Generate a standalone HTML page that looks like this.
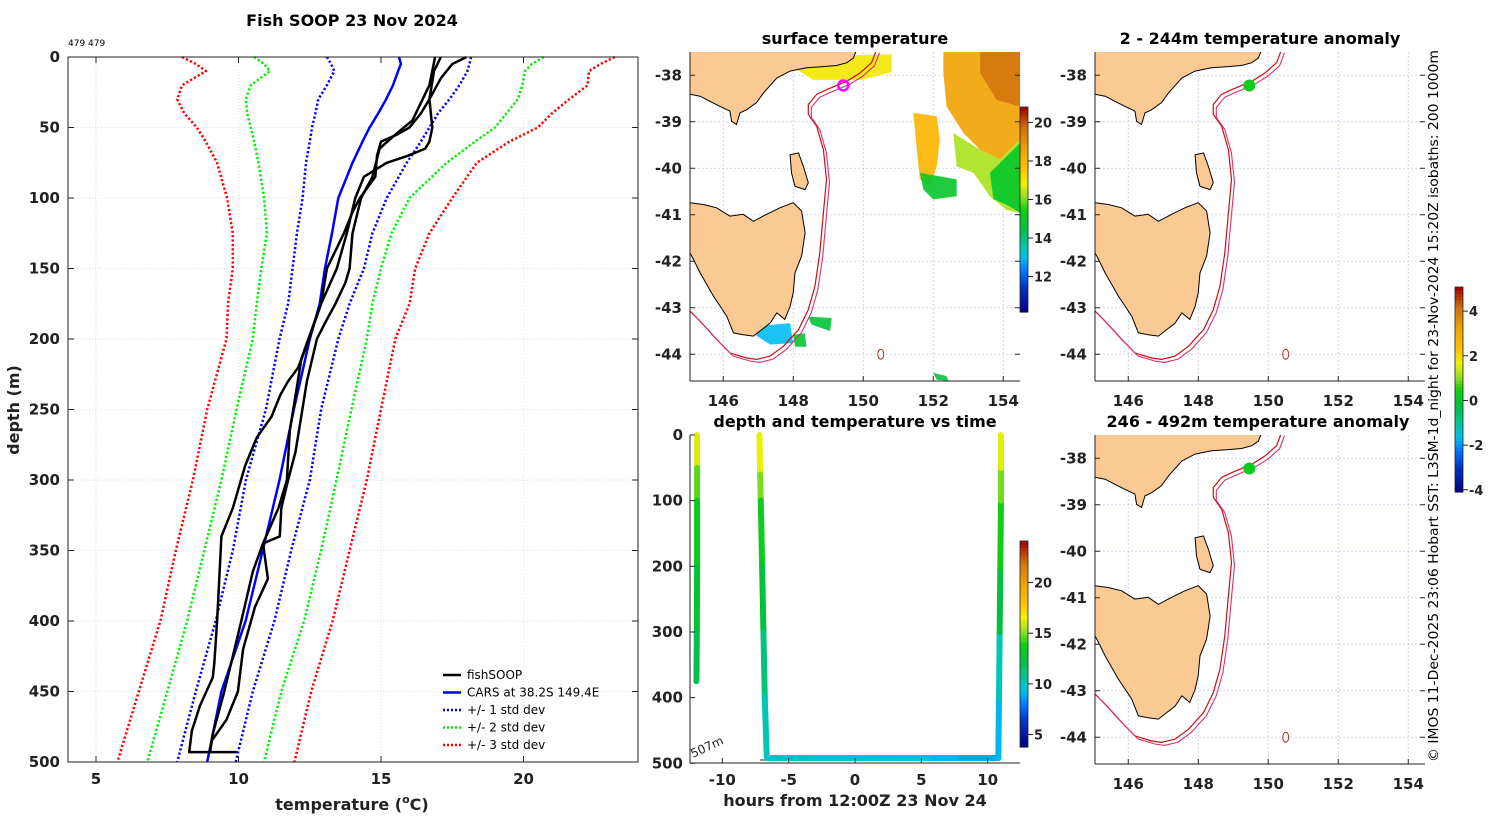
<!DOCTYPE html>
<html><head><meta charset="utf-8"><style>
html,body{margin:0;padding:0;background:#fff}
svg{display:block;font-family:"DejaVu Sans","Liberation Sans",sans-serif}
</style></head><body>
<svg id="s" width="1500" height="820" viewBox="0 0 1500 820" xmlns="http://www.w3.org/2000/svg">
<rect width="1500" height="820" fill="#fff"/>
<g id="prof"></g>
<g id="m1"></g>
<g id="m2"></g>
<g id="m3"></g>
<g id="ts"></g>
<g id="cb"></g>
<text transform="translate(1438,762) rotate(-90)" font-size="13" textLength="712" lengthAdjust="spacingAndGlyphs">© IMOS 11-Dec-2025 23:06 Hobart SST: L3SM-1d_night for 23-Nov-2024 15:20Z isobaths: 200  1000m</text>
</svg>
<script>
// ---------- profile data ----------
const stdDepths=[0,5,10,20,30,40,50,60,75,100,125,150,175,200,250,300,350,400,450,500];
const carsTemp=[15.63,15.7,15.6,15.42,15.18,14.9,14.6,14.35,14.0,13.5,13.28,13.03,12.85,12.5,11.94,11.44,10.85,10.25,9.4,8.9];
const std1Lo=[13.1,13.25,13.36,13.1,12.8,12.7,12.58,12.5,12.37,12.25,12.05,11.9,11.74,11.44,10.96,10.26,9.8,9.2,8.5,7.85];
const std1Hi=[18.16,18.1,18.03,17.75,17.4,17.0,16.7,16.4,15.9,15.2,14.7,14.4,13.9,13.5,12.9,12.5,11.85,11.26,10.5,9.9];
const std2Lo=[10.55,10.9,11.1,10.43,10.26,10.3,10.43,10.55,10.7,10.9,11.0,10.8,10.64,10.5,9.93,9.4,8.8,8.2,7.5,6.8];
const std2Hi=[20.7,20.3,20.05,19.96,19.8,19.4,19.0,18.3,17.3,16.0,15.37,15.0,14.7,14.5,13.96,13.44,12.9,12.3,11.5,10.9];
const std3Lo=[8.02,8.5,8.86,8.02,7.85,8.1,8.54,8.85,9.25,9.6,9.8,9.8,9.63,9.58,8.9,8.4,7.8,7.26,6.5,5.75];
const std3Hi=[23.2,22.7,22.3,22.25,21.6,21.0,20.5,19.5,18.36,17.5,16.7,16.2,16.0,15.5,15.0,14.5,13.9,13.3,12.55,11.96];
const p1Depth=[0,10,30,50,60,65,70,75,80,85,100,125,150,175,200,220,230,240,255,270,290,320,340,360,400,430,440,460,478,493,493];
const p1Temp=[17.1,16.86,16.7,16.8,16.7,16.55,15.95,15.2,14.8,14.4,14.1,13.8,13.45,12.9,12.45,12.1,11.74,11.46,11.16,10.64,10.23,9.8,9.4,9.35,9.25,9.15,9.1,8.65,8.36,8.27,9.94];
const p2Depth=[0,5,15,30,40,50,55,60,70,85,100,110,125,150,175,200,215,240,265,300,320,345,365,400,450,480,493];
const p2Temp=[18.0,17.5,17.1,16.7,16.4,16.0,15.56,15.0,14.86,14.8,14.26,14.0,13.7,13.1,12.9,12.47,12.2,12.0,11.8,11.7,11.4,10.86,10.5,10.1,9.5,9.1,9.0];
const p3Depth=[0,20,45,55,65,85,100,125,150,160,175,190,200,230,260,280,300,320,340,345,370,390,420,450,470,485,493];
const p3Temp=[16.9,16.7,16.1,15.5,14.95,14.7,14.3,14.0,13.9,13.75,13.4,13.0,12.75,12.4,12.16,12.0,11.74,11.5,11.45,10.86,11.03,10.58,10.16,9.98,9.58,9.06,9.0];
const tempTicks=[5,10,15,20];
const depthTicks=[0,50,100,150,200,250,300,350,400,450,500];
// ---------- time series data ----------
const diveTime=[-11.9,-11.9,-11.9,-11.9,-11.92,-11.95, null, -7.2,-7.15,-7.1,-7.0,-6.9,-6.8,-6.65,-6.6,-3,0,3,6,8,10.8,10.85,10.9,10.95,11.0,11.0,11.0];
const diveDepth=[0,50,100,200,300,375, null, 0,60,100,200,300,400,490,492,492,492,492,492,492,492,400,300,200,100,50,0];
const diveTemp=[17,15.5,13.8,13,12.5,11.5, null, 17,16,14,13,12,10.5,9.8,9.8,9.7,9.6,9.6,9.4,8.8,8.9,9.3,11,13.5,14,15.8,17];
const hourTicks=[-10,-5,0,5,10];
const tsDepthTicks=[0,100,200,300,400,500];
// ---------- map data ----------
const lonTicks=[146,148,150,152,154];
const latTicks=[-38,-39,-40,-41,-42,-43,-44];
const mainlandLon=[145.05,149.81,149.72,149.53,149.24,148.76,148.38,147.91,147.53,147.15,146.95,146.67,146.48,146.38,146.24,146.19,145.91,145.62,145.34,145.05];
const mainlandLat=[-37.45,-37.45,-37.63,-37.73,-37.79,-37.82,-37.84,-37.91,-38.06,-38.38,-38.59,-38.74,-38.81,-39.06,-38.99,-38.77,-38.67,-38.56,-38.45,-38.41];
const tasLon=[145.05,145.43,145.81,146.19,146.57,146.86,147.24,147.62,148.0,148.24,148.34,148.24,148.05,148.0,147.91,147.76,147.53,147.34,147.1,146.86,146.57,146.29,146.1,145.72,145.34,145.15,145.05];
const tasLat=[-40.74,-40.78,-40.85,-41.03,-40.99,-41.14,-40.99,-40.85,-40.74,-40.92,-41.39,-41.89,-42.25,-42.68,-42.97,-43.25,-43.11,-43.33,-43.47,-43.61,-43.58,-43.54,-43.18,-42.75,-42.25,-41.96,-41.82];
const flindersLon=[147.91,148.15,148.29,148.43,148.34,148.05,147.95];
const flindersLat=[-39.71,-39.67,-39.96,-40.31,-40.46,-40.39,-40.10];
const isoLon=[150.38,150.24,149.91,149.53,148.95,148.67,148.43,148.43,148.67,148.86,148.95,148.86,148.76,148.62,148.43,148.15,147.72,147.34,146.95,146.67,146.19,145.81,145.34,145.05];
const isoLat=[-37.45,-37.73,-37.95,-38.13,-38.31,-38.41,-38.63,-38.84,-39.10,-39.60,-40.24,-40.96,-41.82,-42.54,-43.04,-43.47,-43.83,-44.04,-44.11,-44.08,-43.97,-43.68,-43.29,-43.07];
const sstPatchTemp=[18.6,19.6,16.3,15.0,18.0,17.0,15.0,13.0,14.8,15.0,14.8];
const sstPatchLon=[[152.29,154.48,154.48,153.91,153.34,152.86,152.38,152.29],[153.34,154.48,154.48,153.81,153.34],[152.57,153.34,153.91,154.48,154.48,154.1,153.62,153.15,152.67],[153.62,154.48,154.48,154.19,153.72],[151.43,152.1,152.19,152.1,151.91,151.62,151.53],[148.0,150.81,150.81,149.96,148.57,148.0],[151.62,152.67,152.67,152.0,151.72],[146.95,147.91,148.0,147.34,146.95],[148.43,149.1,149.05,148.52],[148.0,148.33,148.38,148.05],[152.0,152.38,152.43,152.1]];
const sstPatchLat=[[-37.45,-37.45,-39.38,-39.81,-39.6,-39.24,-38.67,-37.95],[-37.45,-37.45,-38.67,-38.53,-37.95],[-39.24,-39.6,-39.81,-39.38,-40.96,-40.9,-40.6,-40.1,-39.96],[-40.1,-39.46,-40.96,-40.82,-40.66],[-38.81,-38.88,-39.38,-39.96,-40.39,-40.24,-39.6],[-37.6,-37.55,-37.93,-38.1,-38.1,-37.83],[-40.1,-40.24,-40.6,-40.67,-40.46],[-43.4,-43.33,-43.76,-43.79,-43.6],[-43.19,-43.22,-43.5,-43.36],[-43.58,-43.55,-43.84,-43.84],[-44.4,-44.47,-44.57,-44.55]];
const fishLon=149.43, fishLat=-38.22;
const anomShallow=0.3, anomDeep=0.3;

const NS='http://www.w3.org/2000/svg';
function mk(p,tag,attrs){const e=document.createElementNS(NS,tag);for(const k in attrs)e.setAttribute(k,attrs[k]);p.appendChild(e);return e;}
function txt(p,x,y,s,attrs){const e=mk(p,'text',Object.assign({x:x,y:y},attrs||{}));e.textContent=s;return e;}
const cmapStops=[[0,[0,0,128]],[0.12,[0,48,192]],[0.2,[0,112,255]],[0.27,[0,192,240]],[0.33,[0,200,160]],[0.42,[0,192,64]],[0.5,[16,208,16]],[0.57,[160,224,32]],[0.63,[240,240,0]],[0.7,[255,192,0]],[0.8,[240,160,0]],[0.9,[208,112,16]],[1,[160,0,0]]];
function jet(v){v=Math.max(0,Math.min(1,v));for(let i=0;i<cmapStops.length-1;i++){const a=cmapStops[i],b=cmapStops[i+1];if(v<=b[0]){const f=(v-a[0])/(b[0]-a[0]);const c=a[1].map((x,k)=>Math.round(x+(b[1][k]-x)*f));return `rgb(${c[0]},${c[1]},${c[2]})`;}}return 'rgb(160,0,0)';}

// ================= PROFILE CHART =================
const P=document.getElementById('prof');
const px=T=>96+(T-5)*28.5, py=d=>57+d*1.41;
const PL=68,PR=638,PT=57,PB=762;
for(const t of tempTicks){mk(P,'line',{x1:px(t),x2:px(t),y1:PT,y2:PB,stroke:'#e2d4cc','stroke-width':0.8,'stroke-dasharray':'1 2'});}
for(const d of depthTicks){mk(P,'line',{x1:PL,x2:PR,y1:py(d),y2:py(d),stroke:'#cfd3ec','stroke-width':0.8,'stroke-dasharray':'1 2'});}
function line(ds,ts,color,w,dash,name){const pts=ds.map((d,i)=>px(ts[i]).toFixed(1)+','+py(d).toFixed(1)).join(' ');const e=mk(P,'polyline',{points:pts,fill:'none',stroke:color,'stroke-width':w,'stroke-linejoin':'round'});if(dash)e.setAttribute('stroke-dasharray',dash);

}
line(stdDepths,std3Lo,'#ff0000',2.5,'2.2 2.2','std3-low-line');
line(stdDepths,std3Hi,'#ff0000',2.5,'2.2 2.2','std3-high-line');
line(stdDepths,std2Lo,'#00ee00',2.5,'2.2 2.2','std2-low-line');
line(stdDepths,std2Hi,'#00ee00',2.5,'2.2 2.2','std2-high-line');
line(stdDepths,std1Lo,'#0000ff',2.5,'2.2 2.2','std1-low-line');
line(stdDepths,std1Hi,'#0000ff',2.5,'2.2 2.2','std1-high-line');
line(stdDepths,carsTemp,'#0000ff',2.5,null,'cars-line');
line(p1Depth,p1Temp,'#000',2.5,null,'fishsoop-profile-1');
line(p2Depth,p2Temp,'#000',2.5,null,'fishsoop-profile-2');
line(p3Depth,p3Temp,'#000',2.5,null,'fishsoop-profile-3');
mk(P,'rect',{x:PL,y:PT,width:PR-PL,height:PB-PT,fill:'none',stroke:'#222','stroke-width':1});
for(const t of tempTicks){mk(P,'line',{x1:px(t),x2:px(t),y1:PB,y2:PB-6,stroke:'#222'});mk(P,'line',{x1:px(t),x2:px(t),y1:PT,y2:PT+6,stroke:'#222'});
const e=txt(P,px(t),784,String(t),{'font-size':15,'font-weight':'bold','text-anchor':'middle',fill:'#222'});

}
for(const d of depthTicks){mk(P,'line',{x1:PL,x2:PL+6,y1:py(d),y2:py(d),stroke:'#222'});mk(P,'line',{x1:PR,x2:PR-6,y1:py(d),y2:py(d),stroke:'#222'});
const e=txt(P,60,py(d)+5,String(d),{'font-size':15,'font-weight':'bold','text-anchor':'end',fill:'#222'});

}
{const e=txt(P,352,26,'Fish SOOP 23 Nov 2024',{'font-size':16,'font-weight':'bold','text-anchor':'middle'});}
{const e=txt(P,68,46,'479 479',{'font-size':9});}
{const e=mk(P,'text',{x:352,y:810,'font-size':16,'font-weight':'bold','text-anchor':'middle',fill:'#222'});e.innerHTML='temperature (<tspan font-size="11" dy="-7">o</tspan><tspan dy="7">C)</tspan>';}
{const e=txt(P,0,0,'depth (m)',{'font-size':16,'font-weight':'bold','text-anchor':'middle',transform:'translate(19,410) rotate(-90)',fill:'#222'});}
const legItems=[['fishSOOP','#000',null],['CARS at 38.2S 149.4E','#0000ff',null],['+/- 1 std dev','#0000ff','2 2'],['+/- 2 std dev','#00ee00','2 2'],['+/- 3 std dev','#ff0000','2 2']];
legItems.forEach((it,i)=>{const y=675+i*17.5;const g=mk(P,'g',{});


const l=mk(g,'line',{x1:443,x2:461,y1:y,y2:y,stroke:it[1],'stroke-width':2.5});if(it[2])l.setAttribute('stroke-dasharray',it[2]);
txt(g,467,y+4,it[0],{'font-size':12});});

// ================= MAPS =================
function drawMap(G,ox,oy,isSST,anom){
  const mx=lon=>ox+(lon-145.05)*35, my=lat=>oy+(-37.5-lat)*46.5;
  const W=330,H=329;
  const cid='clip'+ox+'_'+oy;
  const defs=mk(G,'defs',{});const cp=mk(defs,'clipPath',{id:cid});mk(cp,'rect',{x:ox,y:oy,width:W,height:H});
  const C=mk(G,'g',{'clip-path':`url(#${cid})`});
  for(const l of lonTicks)mk(C,'line',{x1:mx(l),x2:mx(l),y1:oy,y2:oy+H,stroke:'#c4c9e6','stroke-width':0.8,'stroke-dasharray':'2 2'});
  for(const l of latTicks)mk(C,'line',{x1:ox,x2:ox+W,y1:my(l),y2:my(l),stroke:'#c4c9e6','stroke-width':0.8,'stroke-dasharray':'2 2'});
  const poly=(lons,lats)=>lons.map((o,i)=>mx(o).toFixed(1)+','+my(lats[i]).toFixed(1)).join(' ');
  if(isSST){sstPatchTemp.forEach((t,i)=>{const e=mk(C,'polygon',{points:poly(sstPatchLon[i],sstPatchLat[i]),fill:jet((t-10.16)/(20.8-10.16)),opacity:0.9});
    
    });}
  const iso1=mk(C,'polyline',{points:poly(isoLon,isoLat),fill:'none',stroke:'#c81010','stroke-width':1.2});
  const iso2=mk(C,'polyline',{points:poly(isoLon,isoLat),fill:'none',stroke:'#d83070','stroke-width':1.1,transform:'translate(3,3)'});
  
  
  mk(C,'ellipse',{cx:mx(150.5),cy:my(-44.0),rx:3,ry:5,fill:'none',stroke:'#b03020','stroke-width':1});
  for(const [a,b,n] of [[mainlandLon,mainlandLat,'mainland'],[tasLon,tasLat,'tasmania'],[flindersLon,flindersLat,'flinders-island']]){
    const e=mk(C,'polygon',{points:poly(a,b),fill:'#fbc994',stroke:'#000','stroke-width':1});
    
    }
  if(isSST){mk(C,'circle',{cx:mx(fishLon),cy:my(fishLat),r:5,fill:'none',stroke:'#ff00ff','stroke-width':2.5});}
  else{const e=mk(C,'circle',{cx:mx(fishLon)+1,cy:my(fishLat),r:6,fill:jet((anom+4.1)/9.18)});
    
    }
  mk(G,'line',{x1:ox,x2:ox,y1:oy,y2:oy+H,stroke:'#222'});
  mk(G,'line',{x1:ox,x2:ox+W,y1:oy+H,y2:oy+H,stroke:'#222'});
  for(const l of lonTicks){mk(G,'line',{x1:mx(l),x2:mx(l),y1:oy+H,y2:oy+H-5,stroke:'#222'});
    const e=txt(G,mx(l),oy+H+25,String(l),{'font-size':15,'font-weight':'bold','text-anchor':'middle',fill:'#222'});
    
    }
  for(const l of latTicks){mk(G,'line',{x1:ox,x2:ox+5,y1:my(l),y2:my(l),stroke:'#222'});mk(G,'line',{x1:ox+W,x2:ox+W-5,y1:my(l),y2:my(l),stroke:'#222'});
    const e=txt(G,ox-8,my(l)+5,String(l),{'font-size':15,'font-weight':'bold','text-anchor':'end',fill:'#222'});
    
    }
}
drawMap(document.getElementById('m1'),690,52,true,0);
drawMap(document.getElementById('m2'),1095,52,false,anomShallow);
drawMap(document.getElementById('m3'),1095,435,false,anomDeep);
const titles=[[855,44,'surface temperature'],[1260,44,'2 - 244m temperature anomaly'],[855,427,'depth and temperature vs time'],[1258,427,'246 - 492m temperature anomaly']];
const S=document.getElementById('s');
for(const t of titles){const e=txt(S,t[0],t[1],t[2],{'font-size':16,'font-weight':'bold','text-anchor':'middle'});

}

// ================= TIME SERIES =================
const TS=document.getElementById('ts');
const tx=h=>855+h*13.27, ty=d=>435+d*0.6566;
mk(TS,'line',{x1:760,x2:998,y1:ty(495),y2:ty(495),stroke:'#555','stroke-width':1.2,'stroke-dasharray':'6 4'});
txt(TS,0,0,'507m',{'font-size':12,transform:`translate(693,758) rotate(-25)`,fill:'#222'});
for(let i=0;i<diveTime.length-1;i++){if(diveTime[i]===null||diveTime[i+1]===null)continue;
  const c=jet(((diveTemp[i]+diveTemp[i+1])/2-3.77)/(24.1-3.77));
  const e=mk(TS,'line',{x1:tx(diveTime[i]),y1:ty(diveDepth[i]),x2:tx(diveTime[i+1]),y2:ty(diveDepth[i+1]),stroke:c,'stroke-width':6,'stroke-linecap':'round'});
  
  }
mk(TS,'line',{x1:690,x2:690,y1:435,y2:763,stroke:'#222'});
mk(TS,'line',{x1:690,x2:1020,y1:763,y2:763,stroke:'#222'});
for(const h of hourTicks){mk(TS,'line',{x1:tx(h),x2:tx(h),y1:763,y2:758,stroke:'#222'});
  const e=txt(TS,tx(h),785,String(h),{'font-size':15,'font-weight':'bold','text-anchor':'middle',fill:'#222'});
  
  }
for(const d of tsDepthTicks){mk(TS,'line',{x1:690,x2:695,y1:ty(d),y2:ty(d),stroke:'#222'});
  const e=txt(TS,683,ty(d)+5,String(d),{'font-size':15,'font-weight':'bold','text-anchor':'end',fill:'#222'});
  
  }
{const e=txt(TS,855,806,'hours from 12:00Z 23 Nov 24',{'font-size':16,'font-weight':'bold','text-anchor':'middle',fill:'#222'});}

// ================= COLORBARS =================
const CB=document.getElementById('cb');
function colorbar(x,y0,y1,vmin,vmax,ticks,name){
  const g=mk(CB,'g',{});
  
  
  const n=64,h=(y1-y0)/n;
  for(let i=0;i<n;i++)mk(g,'rect',{x:x,y:(y1-(i+1)*h).toFixed(2),width:8,height:(h+0.6).toFixed(2),fill:jet((i+0.5)/n)});
  mk(g,'rect',{x:x,y:y0,width:8,height:y1-y0,fill:'none',stroke:'#222','stroke-width':0.8});
  for(const t of ticks){const yy=y1-(t-vmin)/(vmax-vmin)*(y1-y0);mk(g,'line',{x1:x+8,x2:x+13,y1:yy,y2:yy,stroke:'#222'});
    txt(g,x+14,yy+5,String(t),{'font-size':13,'font-weight':'bold',fill:'#222'});}
}
colorbar(1020,107,312,10.16,20.8,[12,14,16,18,20],'sst-colorbar');
colorbar(1020,541,747,3.77,24.1,[5,10,15,20],'time-temp-colorbar');
colorbar(1455,287,492,-4.1,5.08,[-4,-2,0,2,4],'anomaly-colorbar');
</script>
</body></html>
